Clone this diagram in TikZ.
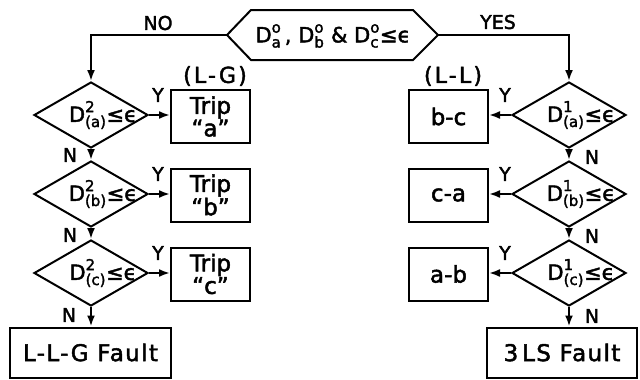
\documentclass[tikz,border=0pt]{standalone}
\usepackage{amsmath}
\usepackage{fontspec}
\setmainfont{DejaVu Sans}
% heavier lettering for the chart
\newfontfamily\chartfont{DejaVu Sans}[FakeBold=2]
\usetikzlibrary{shapes.geometric,arrows.meta}
% letter D with a superscript and a subscript, all in the text font
\newcommand\smallidx[1]{\text{\fontsize{15}{15}\selectfont #1}}
\newcommand\Dsym[2]{\ensuremath{\text{D}^{\smallidx{#1}}_{\smallidx{#2}}}}
% shift a label sideways without changing its box width
\newcommand\shiftright[2]{\hspace*{#1}\makebox[0pt]{#2}}
\begin{document}
\begin{tikzpicture}[x=1pt,y=-1pt,
  every node/.style={font=\chartfont\fontsize{19}{19}\selectfont},
  boxfont/.style={font=\chartfont\fontsize{23}{21}\selectfont},
  wide/.style={font=\chartfont\fontsize{23}{21}\selectfont\addfontfeature{LetterSpace=6}},
  headfont/.style={font=\chartfont\fontsize{22}{22}\selectfont\addfontfeature{LetterSpace=10}},
  testfont/.style={font=\chartfont\fontsize{21}{21}\selectfont},
  flow/.style={line width=2pt},
  arr/.style={flow,-{Latex[length=11pt,width=8pt]}},
  dia/.style={diamond,draw,line width=2pt,minimum width=114pt,minimum height=66pt,inner sep=0pt,aspect=1.7,testfont},
  box/.style={rectangle,draw,line width=2pt,minimum width=79pt,minimum height=53pt,inner sep=0pt,align=center,boxfont},
  endbox/.style={rectangle,draw,line width=2pt,minimum height=50pt,inner sep=0pt,wide},
  lbl/.style={inner sep=0pt}]
\useasboundingbox (0,0) rectangle (640,380);

% start test (hexagon)
\coordinate (hL) at (227,35);
\coordinate (hR) at (438,35);
\draw[flow,line join=miter] (hL) -- (251,10) -- (413,10) -- (hR) -- (413,60) -- (251,60) -- cycle;
\node[lbl,testfont] (htext) at (333,36) {\Dsym{o}{a}\,, \Dsym{o}{b} \& \Dsym{o}{c}≤ϵ};

% left column: L-G tests
\node[dia] (l1) at (91,115) {\shiftright{24pt}{\Dsym{2}{(a)}≤ϵ}};
\node[dia] (l2) at (91,194) {\shiftright{24pt}{\Dsym{2}{(b)}≤ϵ}};
\node[dia] (l3) at (91,273) {\shiftright{24pt}{\Dsym{2}{(c)}≤ϵ}};

\node[box] (b1) at (210.5,116.5) {Trip\\“a”};
\node[box] (b2) at (210.5,195) {Trip\\“b”};
\node[box] (b3) at (210.5,274) {Trip\\“c”};
\node[endbox,minimum width=161pt] (lf) at (90.5,352.5) {L-L-G Fault};

% right column: L-L tests
\node[dia] (r1) at (569,115) {\shiftright{24pt}{\Dsym{1}{(a)}≤ϵ}};
\node[dia] (r2) at (569,194) {\shiftright{24pt}{\Dsym{1}{(b)}≤ϵ}};
\node[dia] (r3) at (569,273) {\shiftright{24pt}{\Dsym{1}{(c)}≤ϵ}};

\node[box] (c1) at (448.5,116.5) {b-c};
\node[box] (c2) at (448.5,195) {c-a};
\node[box] (c3) at (448.5,274) {a-b};
\node[endbox,minimum width=150pt] (rf) at (562,352.5) {3\,LS Fault};

% group headings
\node[lbl,headfont] (lg) at (215,76) {(L-G)};
\node[lbl,headfont] (ll) at (453,76) {(L-L)};

% branches from the start test
\draw[arr] (hL) -| (l1.north);
\draw[arr] (hR) -| (r1.north);
\node[lbl] (no) at (158,23) {NO};
\node[lbl] (yes) at (498,22) {YES};

% left chain
\draw[arr] (l1.south) -- (l2.north);
\draw[arr] (l2.south) -- (l3.north);
\draw[arr] (l3.south) -- (l3.south |- lf.north);
\draw[arr] (l1.east) -- (l1.east -| b1.west);
\draw[arr] (l2.east) -- (l2.east -| b2.west);
\draw[arr] (l3.east) -- (l3.east -| b3.west);

% right chain
\draw[arr] (r1.south) -- (r2.north);
\draw[arr] (r2.south) -- (r3.north);
\draw[arr] (r3.south) -- (r3.south |- rf.north);
\draw[arr] (r1.west) -- (r1.west -| c1.east);
\draw[arr] (r2.west) -- (r2.west -| c2.east);
\draw[arr] (r3.west) -- (r3.west -| c3.east);

% branch labels
\node[lbl] (ly1) at ([shift={(9,-20)}]l1.east) {Y};
\node[lbl] (ly2) at ([shift={(9,-20)}]l2.east) {Y};
\node[lbl] (ly3) at ([shift={(9,-20)}]l3.east) {Y};
\node[lbl] (ln1) at ([shift={(-21,6)}]l1.south) {N};
\node[lbl] (ln2) at ([shift={(-21,7)}]l2.south) {N};
\node[lbl] (ln3) at ([shift={(-22,8)}]l3.south) {N};

\node[lbl] (ry1) at ([shift={(-6,-20)}]r1.west) {Y};
\node[lbl] (ry2) at ([shift={(-6,-20)}]r2.west) {Y};
\node[lbl] (ry3) at ([shift={(-6,-20)}]r3.west) {Y};
\node[lbl] (rn1) at ([shift={(23,8)}]r1.south) {N};
\node[lbl] (rn2) at ([shift={(23,8)}]r2.south) {N};
\node[lbl] (rn3) at ([shift={(23,9)}]r3.south) {N};
\end{tikzpicture}
\end{document}
